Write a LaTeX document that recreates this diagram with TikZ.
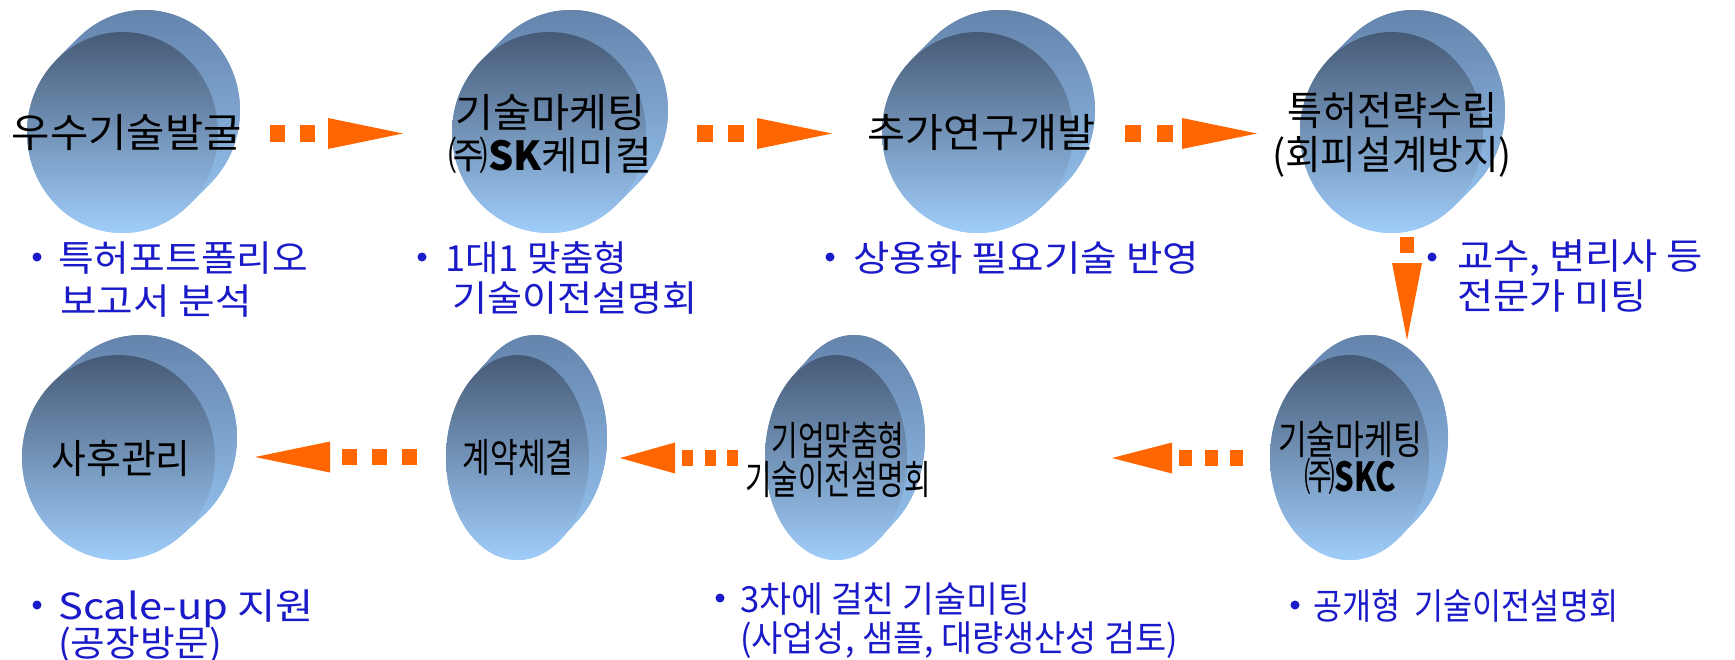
\documentclass[tikz,border=0pt]{standalone}
\usepackage{fontspec}
\usepackage{graphicx}
\setmainfont{Noto Sans CJK KR}
\usetikzlibrary{shapes.geometric,arrows.meta}
\definecolor{orangec}{RGB}{255,102,0}
\definecolor{bluet}{RGB}{26,26,200}
\definecolor{ftop}{RGB}{70,90,118}
\definecolor{fbot}{RGB}{160,205,250}
\definecolor{btop}{RGB}{100,132,172}
\definecolor{bbot}{RGB}{150,195,240}
% fit a line of text to a given width, natural height
\newcommand\fitw[2]{\resizebox{#1pt}{\height}{#2}}
% disc: name, front x, front y, x radius, y radius, dx, dy
\newcommand\mydisc[7]{%
  \foreach \k in {0,1,...,12}{%
    \shade[top color=btop, bottom color=bbot]
      ({#2+\k*#6/12},{#3-\k*#7/12}) ellipse [x radius=#4pt, y radius=#5pt];}
  \node[backd, minimum width=2*#4pt, minimum height=2*#5pt] (#1b) at ({#2+#6},{#3-#7}) {};
  \node[frontd, minimum width=2*#4pt, minimum height=2*#5pt] (#1) at (#2,#3) {};
}
\begin{document}
\begin{tikzpicture}[x=1pt,y=-1pt,
  backd/.style={ellipse, inner sep=0pt, draw=none, top color=btop, bottom color=bbot},
  frontd/.style={ellipse, inner sep=0pt, draw=none, top color=ftop, bottom color=fbot},
  ctext/.style={inner sep=0pt, align=center, text=black},
  btext/.style={inner sep=0pt, anchor=base west, font=\fontsize{36}{40}\selectfont, text=bluet},
  bul/.style={circle, fill=bluet, inner sep=0pt, minimum size=9pt},
  flowh/.style={draw=orangec, line width=17pt, dash pattern=on 15pt off 15pt,
    -{Triangle[length=75pt,width=31pt,line width=0pt,fill=orangec]}},
]
\useasboundingbox (0,0) rectangle (1735,659);
% ---------- spheres
\mydisc{c1}{122.5}{132.5}{95.5}{100.5}{22}{22}
\mydisc{c2}{549}{132.5}{97}{100.5}{22}{22}
\mydisc{c3}{977.5}{132.5}{95.5}{100.5}{22}{22}
\mydisc{c4}{1391.5}{132.5}{91.5}{100.5}{22}{22}
\mydisc{c5}{118.5}{457.5}{96.5}{102.5}{22}{20}
\mydisc{c6}{517.5}{457.5}{71.5}{102.5}{18}{20}
\mydisc{c7}{836}{457.5}{71}{102.5}{18}{20}
\mydisc{c8}{1349.5}{457.5}{79.5}{102.5}{19}{20}
% ---------- texts in spheres
\node[ctext, font=\fontsize{40}{43}\selectfont] (c1t) at (127,133) {\fitw{230}{우수기술발굴}};
\node[ctext, font=\fontsize{40}{43}\selectfont] (c2t) at (550,134.5) {\fitw{190}{기술마케팅}\\\fitw{203}{㈜\textbf{SK}케미컬}};
\node[ctext, font=\fontsize{40}{43}\selectfont] (c3t) at (981,133) {\fitw{228}{추가연구개발}};
\node[ctext, font=\fontsize{40}{44}\selectfont] (c4t) at (1392,135) {\fitw{210}{특허전략수립}\\\fitw{240}{(회피설계방지)}};
\node[ctext, font=\fontsize{40}{43}\selectfont] (c5t) at (121,458) {\fitw{139}{사후관리}};
\node[ctext, font=\fontsize{40}{43}\selectfont] (c6t) at (518,458) {\fitw{111}{계약체결}};
\node[ctext, font=\fontsize{40}{39}\selectfont] (c7t) at (838,459.5) {\fitw{133}{기업맞춤형}\\\fitw{185}{기술이전설명회}};
\node[ctext, font=\fontsize{40}{37}\selectfont] (c8t) at (1350,458) {\fitw{144}{기술마케팅}\\\fitw{92}{㈜\textbf{SKC}}};
% ---------- arrows
\coordinate (a1s) at (270,133.5); \coordinate (a1t) at (403,133.5);
\coordinate (a2s) at (697,133.5); \coordinate (a2t) at (832,133.5);
\coordinate (a3s) at (1125,133.5); \coordinate (a3t) at (1257,133.5);
\coordinate (a4s) at (1407,237); \coordinate (a4t) at (1407,340);
\coordinate (a5s) at (1243,458); \coordinate (a5t) at (1112,458);
\coordinate (a6s) at (738,458); \coordinate (a6t) at (620,458);
\coordinate (a7s) at (417,457); \coordinate (a7t) at (255,457);
\draw[flowh] (a1s) -- (a1t);
\draw[flowh, dash pattern=on 15.5pt off 15.5pt] (a2s) -- (a2t);
\draw[flowh, dash pattern=on 15.5pt off 16.5pt] (a3s) -- (a3t);
\draw[flowh, line width=14pt, dash pattern=on 16pt off 16pt,
  -{Triangle[length=77pt,width=30pt,line width=0pt,fill=orangec]}] (a4s) -- (a4t);
\draw[flowh, line width=16pt, dash pattern=on 13pt off 12.5pt,
  -{Triangle[length=60pt,width=31pt,line width=0pt,fill=orangec]}] (a5s) -- (a5t);
\draw[flowh, line width=16pt, dash pattern=on 11pt off 11.5pt,
  -{Triangle[length=55pt,width=31pt,line width=0pt,fill=orangec]}] (a6s) -- (a6t);
\draw[flowh, line width=16pt, dash pattern=on 15pt off 15pt,
  -{Triangle[length=75pt,width=31pt,line width=0pt,fill=orangec]}] (a7s) -- (a7t);
% ---------- bullet notes
\node[bul] (d1) at (37,257) {};
\node[btext] (n1a) at (58,271) {\fitw{250}{특허포트폴리오}};
\node[btext] (n1b) at (60,314) {\fitw{192}{보고서 분석}};
\node[bul] (d2) at (422,257) {};
\node[btext] (n2a) at (445,271) {\fitw{182}{1대1 맞춤형}};
\node[btext] (n2b) at (452,311) {\fitw{245}{기술이전설명회}};
\node[bul] (d3) at (830,257) {};
\node[btext] (n3a) at (853,271) {\fitw{346}{상용화 필요기술 반영}};
\node[bul] (d4) at (1432,257) {};
\node[btext] (n4a) at (1457,269) {\fitw{246}{교수, 변리사 등}};
\node[btext] (n4b) at (1457,309) {\fitw{190}{전문가 미팅}};
\node[bul] (d5) at (37,605) {};
\node[btext] (n5a) at (58,619) {\fitw{256}{Scale-up 지원}};
\node[btext] (n5b) at (58,656) {\fitw{164}{(공장방문)}};
\node[bul] (d7) at (720,598) {};
\node[btext] (n7a) at (740,612) {\fitw{290}{3차에 걸친 기술미팅}};
\node[btext] (n7b) at (740,651) {\fitw{438}{(사업성, 샘플, 대량생산성 검토)}};
\node[bul] (d8) at (1295,605) {};
\node[btext] (n8a) at (1313,619) {\fitw{305}{공개형\ \ 기술이전설명회}};
\end{tikzpicture}
\end{document}
